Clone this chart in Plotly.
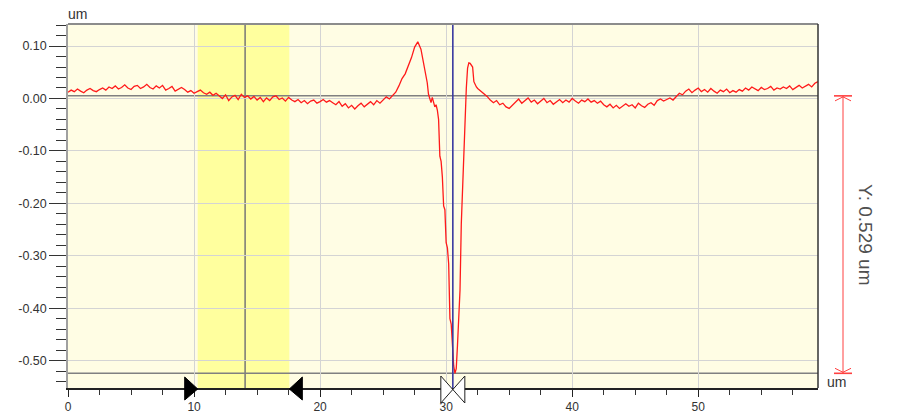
import numpy as np
import plotly.graph_objects as go

# ---- surface profile (um) ----
# 0 .. 28.25 um, 0.25 um step
z_left = [
    0.012, 0.016, 0.013, 0.018, 0.014, 0.011, 0.016, 0.019, 0.015, 0.013, 0.017, 0.020,
    0.016, 0.022, 0.019, 0.024, 0.018, 0.021, 0.026, 0.020, 0.017, 0.023, 0.025, 0.019,
    0.022, 0.027, 0.021, 0.018, 0.024, 0.020, 0.025, 0.016, 0.019, 0.023, 0.014, 0.018,
    0.021, 0.017, 0.012, 0.015, 0.010, 0.013, 0.016, 0.011, 0.008, 0.012, 0.006, 0.010,
    0.004, 0.000, 0.007, -0.004, 0.003, 0.006, -0.002, 0.008, 0.002, 0.005, -0.001, 0.004,
    -0.003, 0.002, -0.006, 0.001, -0.004, 0.003, 0.005, -0.002, 0.001, -0.005, 0.002, -0.003,
    -0.006, -0.002, -0.008, -0.004, -0.010, -0.005, -0.003, -0.009, -0.006, -0.002, -0.007, -0.004,
    -0.008, -0.012, -0.006, -0.015, -0.010, -0.018, -0.013, -0.020, -0.014, -0.009, -0.016, -0.011,
    -0.006, -0.012, -0.004, -0.009, -0.002, 0.003, -0.001, 0.006, 0.012, 0.024, 0.038, 0.047,
    0.062, 0.078, 0.098, 0.108, 0.094, 0.062,
]
# 28.5 .. 32.4 um, 0.1 um step (trench)
z_mid = [
    0.030, 0.008, -0.002, -0.008, 0.002, -0.010, -0.016, -0.012,
    -0.022, -0.040, -0.110, -0.120, -0.150, -0.205, -0.212, -0.275,
    -0.285, -0.315, -0.420, -0.430, -0.465, -0.510, -0.524, -0.515,
    -0.470, -0.420, -0.365, -0.240, -0.175, -0.080, -0.015, 0.020,
    0.058, 0.068, 0.067, 0.064, 0.060, 0.032, 0.026, 0.022,
]
# 32.5 .. 59.5 um, 0.25 um step
z_right = [
    0.019, 0.014, 0.008, 0.004, -0.003, -0.008, -0.004, -0.012, -0.009, -0.016, -0.019, -0.013,
    -0.006, -0.001, -0.009, -0.004, 0.001, -0.007, -0.003, -0.010, -0.005, 0.000, -0.008, -0.004,
    -0.011, -0.006, -0.002, -0.008, -0.003, -0.007, 0.000, -0.005, -0.009, -0.003, -0.006, -0.001,
    -0.007, -0.004, -0.009, -0.005, -0.012, -0.016, -0.011, -0.018, -0.013, -0.019, -0.014, -0.010,
    -0.015, -0.012, -0.018, -0.009, -0.014, -0.017, -0.011, -0.008, -0.013, -0.004, -0.001, -0.005,
    -0.002, 0.001, -0.003, 0.004, 0.010, 0.007, 0.014, 0.018, 0.011, 0.016, 0.020, 0.013,
    0.017, 0.012, 0.019, 0.014, 0.010, 0.016, 0.013, 0.018, 0.011, 0.015, 0.012, 0.017,
    0.014, 0.020, 0.016, 0.022, 0.018, 0.015, 0.021, 0.017, 0.019, 0.023, 0.016, 0.020,
    0.018, 0.022, 0.019, 0.024, 0.017, 0.021, 0.025, 0.020, 0.023, 0.027, 0.022, 0.029,
    0.032,
]

x_left = 0.0 + 0.25 * np.arange(len(z_left))
x_mid = 28.5 + 0.1 * np.arange(len(z_mid))
x_right = 32.5 + 0.25 * np.arange(len(z_right))
profile_x = np.concatenate([x_left, x_mid, x_right])
profile_z = np.concatenate([z_left, z_mid, z_right])

# ---- cursors ----
band_start, band_end = 10.29, 17.56     # reference region
band_cursor = 14.05                     # centre cursor in the region
measure_cursor = 30.53                  # measurement cursor
level_upper, level_lower = 0.005, -0.524

# ---- axes ----
x_range = [0, 59.5]
y_range = [-0.552, 0.142]
y_ticks = [0.10, 0.00, -0.10, -0.20, -0.30, -0.40, -0.50]
y_labels = ["0.10", "0.00", "-0.10", "-0.20", "-0.30", "-0.40", "-0.50"]
x_ticks = [0, 10, 20, 30, 40, 50]
x_labels = ["0", "10", "20", "30", "40", "50"]

FONT = "Liberation Sans, Arial, sans-serif"
TXT = "#333333"
TICK_SIZE = 12.5

fig = go.Figure()
fig.add_trace(go.Scatter(
    x=profile_x, y=profile_z, mode="lines",
    line=dict(color="#ff1a1a", width=1.3),
    hoverinfo="skip", showlegend=False,
))

shapes = []
# highlighted reference region
shapes.append(dict(type="rect", xref="x", yref="paper", x0=band_start, x1=band_end,
                   y0=0, y1=1, fillcolor="#ffff9e", line=dict(width=0), layer="below"))
# region centre cursor
shapes.append(dict(type="line", xref="x", yref="paper", x0=band_cursor, x1=band_cursor,
                   y0=0, y1=1, line=dict(color="#777777", width=1.5), layer="between"))
# horizontal level cursors
for lv in (level_upper, level_lower):
    shapes.append(dict(type="line", xref="paper", yref="y", x0=0, x1=1, y0=lv, y1=lv,
                       line=dict(color="#808080", width=1.5), layer="between"))
# measurement cursor
shapes.append(dict(type="line", xref="x", yref="paper", x0=measure_cursor, x1=measure_cursor,
                   y0=0, y1=1, line=dict(color="#3a3aa0", width=1.6), layer="above"))
# frame: top and right
shapes.append(dict(type="line", xref="paper", yref="paper", x0=0, x1=1, y0=1, y1=1,
                   line=dict(color="#8c8c8c", width=2)))
shapes.append(dict(type="line", xref="paper", yref="paper", x0=1, x1=1, y0=0, y1=1,
                   line=dict(color="#333333", width=1.5)))

# cursor handles on the x axis
shapes.append(dict(type="path", xref="x", yref="paper", xsizemode="pixel", ysizemode="pixel",
                   xanchor=band_start, yanchor=0, path="M-13,11 L0,-1 L-13,-12 Z",
                   fillcolor="#000000", line=dict(color="#000000", width=1)))
shapes.append(dict(type="path", xref="x", yref="paper", xsizemode="pixel", ysizemode="pixel",
                   xanchor=band_end, yanchor=0, path="M13,11 L0,-1 L13,-12 Z",
                   fillcolor="#000000", line=dict(color="#000000", width=1)))
shapes.append(dict(type="path", xref="x", yref="paper", xsizemode="pixel", ysizemode="pixel",
                   xanchor=measure_cursor, yanchor=0, path="M-12,12 L12,-15 L12,12 L-12,-15 Z",
                   fillcolor="#ffffff", line=dict(color="#222222", width=1)))

# vertical measurement arrow between the level cursors
RED = "#ff4040"
shapes.append(dict(type="line", xref="paper", yref="y", xsizemode="pixel", xanchor=1,
                   x0=25, x1=25, y0=level_upper, y1=level_lower, line=dict(color=RED, width=1)))
for lv, s in ((level_upper, -1), (level_lower, 1)):
    shapes.append(dict(type="path", xref="paper", yref="y", xsizemode="pixel", ysizemode="pixel",
                       xanchor=1, yanchor=lv, path="M16,0 L34,0",
                       line=dict(color=RED, width=1.6)))
    shapes.append(dict(type="path", xref="paper", yref="y", xsizemode="pixel", ysizemode="pixel",
                       xanchor=1, yanchor=lv,
                       path=f"M17,{s * 5} L25,{s * 1} L33,{s * 5}",
                       line=dict(color=RED, width=1)))

annotations = [
    dict(text="um", xref="paper", yref="paper", x=0, y=1, xanchor="left", yanchor="bottom",
         showarrow=False, font=dict(family=FONT, size=14, color=TXT), yshift=0, xshift=-2),
    dict(text="um", xref="paper", yref="paper", x=1, y=0, xanchor="left", yanchor="middle",
         xshift=7, yshift=6, showarrow=False, font=dict(family=FONT, size=14, color=TXT)),
    dict(text=f"Y: {level_upper - level_lower:.3f} um", xref="paper", yref="y",
         x=1, y=(level_upper + level_lower) / 2, xshift=60, textangle=90,
         showarrow=False, font=dict(family=FONT, size=19, color="#505050")),
]

fig.update_layout(
    width=902, height=417,
    margin=dict(l=68, r=84, t=24, b=29, autoexpand=False),
    paper_bgcolor="#ffffff", plot_bgcolor="#fffde4",
    showlegend=False, shapes=shapes, annotations=annotations,
    font=dict(family=FONT, size=TICK_SIZE, color=TXT),
)
fig.update_xaxes(
    automargin=False,
    range=x_range, tickmode="array", tickvals=x_ticks, ticktext=x_labels,
    ticks="outside", ticklen=7, tickcolor="#222222", tickwidth=1,
    ticklabelstandoff=0,
    showgrid=True, gridcolor="#d4d4d4", gridwidth=1, zeroline=False,
    showline=True, linecolor="#222222", linewidth=1.5,
    minor=dict(tickmode="array", tickvals=list(np.arange(2.5, 59.5, 2.5)),
               ticks="outside", ticklen=5, tickcolor="#333333", showgrid=False),
    tickfont=dict(family=FONT, size=12, color=TXT),
)
fig.update_yaxes(
    automargin=False,
    range=y_range, tickmode="array", tickvals=y_ticks, ticktext=y_labels,
    ticks="outside", ticklen=17, tickcolor="#333333", tickwidth=1,
    showgrid=True, gridcolor="#d4d4d4", gridwidth=1, zeroline=False,
    showline=True, linecolor="#a0a0a0", linewidth=1.5,
    minor=dict(tickmode="array", tickvals=list(np.round(np.arange(-0.54, 0.141, 0.02), 2)),
               ticks="outside", ticklen=10, tickcolor="#333333", showgrid=False),
    tickfont=dict(family=FONT, size=TICK_SIZE, color=TXT),
)

fig.write_html("out.html")
